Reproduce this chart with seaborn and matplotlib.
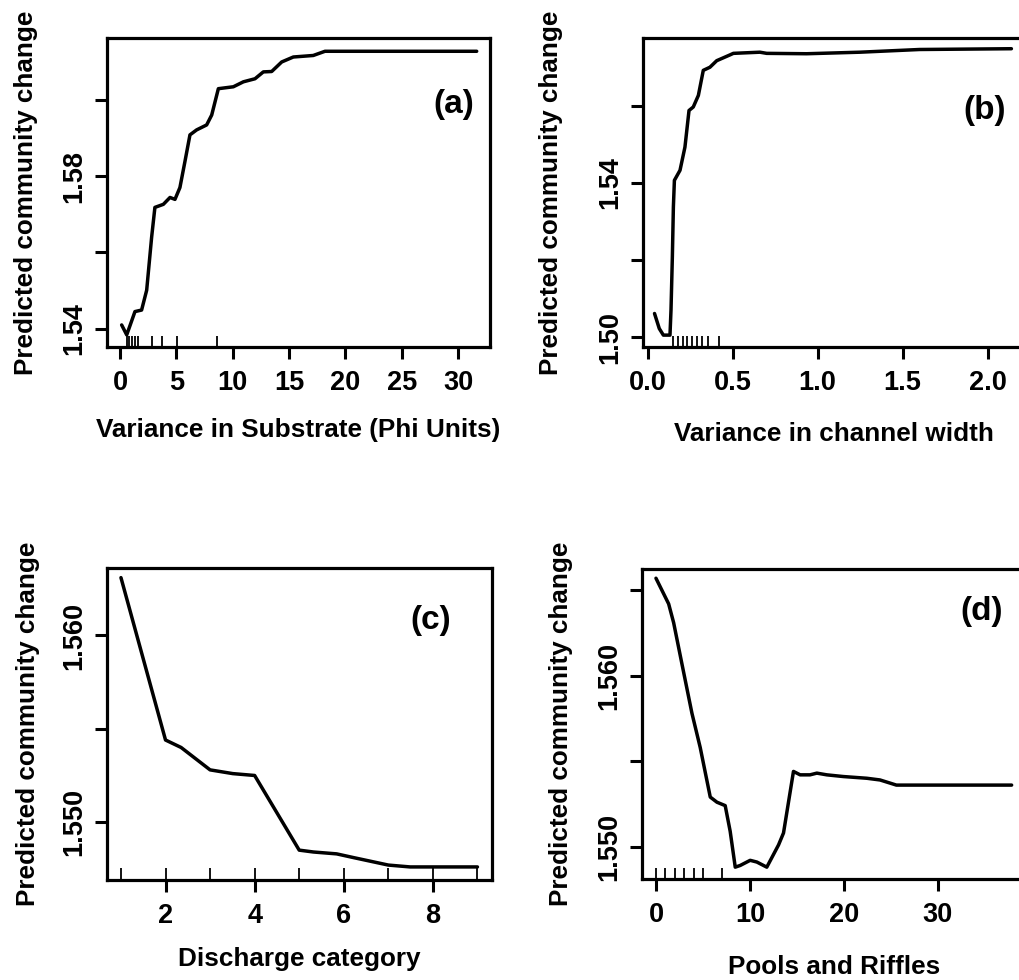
import matplotlib
matplotlib.use("Agg")
import matplotlib.pyplot as plt
import seaborn as sns

# ---------------- data ----------------
a_x = [0.15, 0.6, 1.33, 1.92, 2.37, 2.81, 3.1, 3.85, 4.44, 4.88, 5.32, 5.77, 6.21,
       6.8, 7.69, 8.14, 8.73, 10.06, 10.95, 11.98, 12.72, 13.46, 14.35, 15.38,
       17.15, 18.19, 31.65]
a_y = [1.5410, 1.5384, 1.5445, 1.5449, 1.5501, 1.5640, 1.5718, 1.5726, 1.5744,
       1.5739, 1.5770, 1.5839, 1.5908, 1.5921, 1.5934, 1.5960, 1.6029, 1.6034,
       1.6047, 1.6055, 1.6073, 1.6074, 1.6099, 1.6112, 1.6116, 1.6127, 1.6127]
a_rug = [0.59, 0.83, 1.06, 1.30, 1.6, 2.81, 3.7, 5.1, 8.58]

b_x = [0.04, 0.068, 0.092, 0.131, 0.137, 0.145, 0.151, 0.157, 0.19, 0.219, 0.243,
       0.268, 0.298, 0.327, 0.366, 0.406, 0.484, 0.504, 0.66, 0.70, 0.935, 1.249,
       1.60, 2.14]
b_y = [1.5062, 1.5023, 1.5006, 1.5006, 1.5071, 1.5209, 1.5338, 1.5407, 1.5433,
       1.5493, 1.5588, 1.5597, 1.5627, 1.5692, 1.5700, 1.5717, 1.5732, 1.5736,
       1.5739, 1.5736, 1.5735, 1.5739, 1.5746, 1.5748]
b_rug = [0.151, 0.18, 0.206, 0.229, 0.259, 0.288, 0.318, 0.356, 0.421]

c_x = [1, 2, 2.35, 3, 3.51, 4, 5, 5.32, 5.84, 6.22, 7, 7.49, 9]
c_y = [1.5631, 1.5544, 1.5540, 1.5528, 1.5526, 1.5525, 1.5485, 1.5484, 1.5483,
       1.5481, 1.5477, 1.5476, 1.5476]
c_rug = [1, 2, 3, 4, 5, 6, 7, 8, 9]

d_x = [0, 1.35, 1.88, 2.76, 3.83, 4.71, 5.78, 6.49, 7.37, 7.9, 8.44, 8.97, 10.03,
       10.74, 11.8, 13.05, 13.58, 14.64, 15.35, 16.4, 17.13, 18.19, 19.96, 22.45,
       23.86, 25.6, 37.87]
d_y = [1.5657, 1.5642, 1.5631, 1.5607, 1.5578, 1.5558, 1.5529, 1.5526, 1.5524,
       1.5509, 1.5488, 1.5489, 1.5492, 1.5491, 1.5488, 1.5501, 1.5508, 1.5544,
       1.5542, 1.5542, 1.5543, 1.5542, 1.5541, 1.5540, 1.5539, 1.5536, 1.5536]
d_rug = [0, 1, 2, 3, 4, 5, 7]

ylabel = "Predicted community change"
xlabels = ["Variance in Substrate (Phi Units)", "Variance in channel width",
           "Discharge category", "Pools and Riffles"]
panel_tags = ["(a)", "(b)", "(c)", "(d)"]

a_xticks = [0, 5, 10, 15, 20, 25, 30]
a_yticks = [1.54, 1.56, 1.58, 1.60]
a_ylabels = ["1.54", "", "1.58", ""]
b_xticks = [0.0, 0.5, 1.0, 1.5, 2.0]
b_xlabels = ["0.0", "0.5", "1.0", "1.5", "2.0"]
b_yticks = [1.50, 1.52, 1.54, 1.56]
b_ylabels = ["1.50", "", "1.54", ""]
c_xticks = [2, 4, 6, 8]
c_yticks = [1.550, 1.555, 1.560]
c_ylabels = ["1.550", "", "1.560"]
d_xticks = [0, 10, 20, 30]
d_yticks = [1.550, 1.555, 1.560, 1.565]
d_ylabels = ["1.550", "", "1.560", ""]

# ---------------- style ----------------
sns.set_theme(style="ticks")
plt.rcParams["font.family"] = ["Liberation Sans", "DejaVu Sans"]
plt.rcParams["font.weight"] = "bold"
plt.rcParams["axes.linewidth"] = 2.2

fig = plt.figure(figsize=(10.2, 9.8), dpi=100)

W, H = 1020.0, 980.0


def rect(l, t, r, b):
    return [l / W, 1 - b / H, (r - l) / W, (b - t) / H]


panels = [
    dict(rect=rect(107, 38.3, 490, 346.7), x=a_x, y=a_y, rug=a_rug, rug_h=0.034,
         xlim=(-1.15, 32.83), ylim=(1.5353, 1.6161),
         xt=a_xticks, xtl=[str(v) for v in a_xticks], yt=a_yticks, ytl=a_ylabels,
         ylab_x=-0.18, xlab_y=-0.231, tag_xy=(454, 104)),
    dict(rect=rect(643.3, 38.3, 1025, 346.7), x=b_x, y=b_y, rug=b_rug, rug_h=0.034,
         xlim=(-0.026, 2.22), ylim=(1.4976, 1.5775),
         xt=b_xticks, xtl=b_xlabels, yt=b_yticks, ytl=b_ylabels,
         ylab_x=-0.21, xlab_y=-0.243, tag_xy=(985, 111)),
    dict(rect=rect(106.7, 568.3, 491.7, 880), x=c_x, y=c_y, rug=c_rug, rug_h=0.04,
         xlim=(0.68, 9.32), ylim=(1.5469, 1.5636),
         xt=c_xticks, xtl=[str(v) for v in c_xticks], yt=c_yticks, ytl=c_ylabels,
         ylab_x=-0.173, xlab_y=-0.215, tag_xy=(431, 620)),
    dict(rect=rect(641.7, 569, 1026, 879.3), x=d_x, y=d_y, rug=d_rug, rug_h=0.037,
         xlim=(-1.52, 39.4), ylim=(1.54809, 1.56624),
         xt=d_xticks, xtl=[str(v) for v in d_xticks], yt=d_yticks, ytl=d_ylabels,
         ylab_x=-0.18, xlab_y=-0.244, tag_xy=(982, 611)),
]

for i, p in enumerate(panels):
    ax = fig.add_axes(p["rect"])
    sns.lineplot(x=p["x"], y=p["y"], ax=ax, color="black", linewidth=2.5,
                 estimator=None, sort=False)
    sns.rugplot(x=p["rug"], ax=ax, height=p["rug_h"], color="black", linewidth=1.3)
    ax.set_xlim(*p["xlim"])
    ax.set_ylim(*p["ylim"])
    ax.set_xticks(p["xt"])
    ax.set_xticklabels(p["xtl"])
    ax.set_yticks(p["yt"])
    ax.set_yticklabels(p["ytl"], rotation=90, va="center")
    ax.tick_params(axis="x", direction="out", length=8.6, width=2.2, pad=8.0,
                   labelsize=19.5, color="black", labelcolor="black")
    ax.tick_params(axis="y", direction="out", length=8.6, width=2.2, pad=5.5,
                   labelsize=19.5, color="black", labelcolor="black")
    for lab in ax.get_xticklabels() + ax.get_yticklabels():
        lab.set_fontweight("bold")
    for s in ax.spines.values():
        s.set_visible(True)
        s.set_color("black")
        s.set_linewidth(2.3)
    ax.set_ylabel(ylabel, fontsize=18.8, fontweight="bold", color="black")
    ax.yaxis.set_label_coords(p["ylab_x"], 0.5)
    ax.set_xlabel(xlabels[i], fontsize=18.8, fontweight="bold", color="black")
    ax.xaxis.set_label_coords(0.5, p["xlab_y"])
    ax.set_facecolor("white")
    tx, ty = p["tag_xy"]
    fig.text(tx / W, 1 - ty / H, panel_tags[i], fontsize=24, fontweight="bold",
             ha="center", va="center", color="black")

fig.savefig("out.png", dpi=100, facecolor="white")
